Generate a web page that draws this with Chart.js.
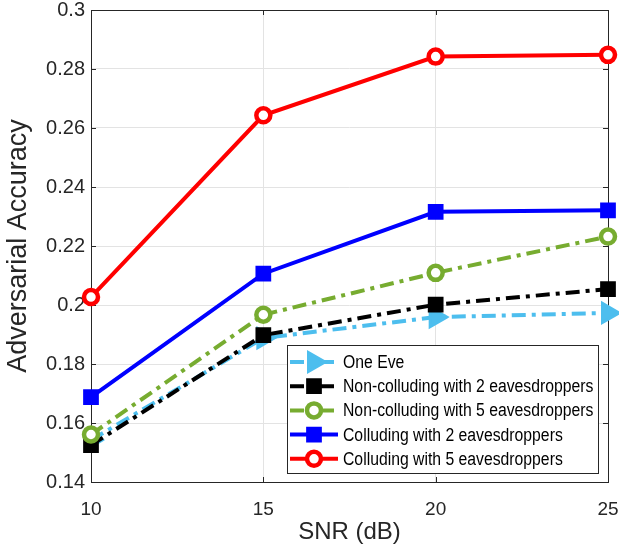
<!DOCTYPE html>
<html>
<head>
<meta charset="utf-8">
<script src="https://cdn.jsdelivr.net/npm/chart.js@4.4.1/dist/chart.umd.min.js"></script>
<style>
  html, body { margin: 0; padding: 0; background: #fff; }
  #wrap { width: 619px; height: 546px; }
</style>
</head>
<body>
<div id="wrap"><canvas id="chart" width="619" height="546"></canvas></div>
<script>
// SNR values on the x axis (dB)
const snr = [ 10, 15, 20, 25 ];

// adversarial accuracy per scenario
const oneEve = [ 0.1542, 0.1888, 0.1959, 0.1973 ];
const nonColluding2 = [ 0.1525, 0.1898, 0.2001, 0.2054 ];
const nonColluding5 = [ 0.1561, 0.1967, 0.2109, 0.2232 ];
const colluding2 = [ 0.1688, 0.2106, 0.2316, 0.2321 ];
const colluding5 = [ 0.2027, 0.2643, 0.2842, 0.2848 ];

const seriesLabels = [
	'One Eve',
	'Non-colluding with 2 eavesdroppers',
	'Non-colluding with 5 eavesdroppers',
	'Colluding with 2 eavesdroppers',
	'Colluding with 5 eavesdroppers',
];

const xTicks = [ 10, 15, 20, 25 ];
const yTicks = [ 0.14, 0.16, 0.18, 0.2, 0.22, 0.24, 0.26, 0.28, 0.3 ];

const FONT = '"Liberation Sans", Arial, Helvetica, sans-serif';
const AXIS_COLOR = '#262626';
const DASH_DOT = [ 14, 6, 4, 6 ];

function toPoints( values ) {
	return values.map( ( v, i ) => ( { x: snr[ i ], y: v } ) );
}

// 系列ごとの見た目
const styles = [
	{ color: '#4DBEEE', dash: DASH_DOT, marker: 'triangle', fill: '#4DBEEE', radius: 11, bw: 3 },
	{ color: '#000000', dash: DASH_DOT, marker: 'rect', fill: '#000000', radius: 9, bw: 3 },
	{ color: '#77AC30', dash: DASH_DOT, marker: 'circle', fill: '#ffffff', radius: 7, bw: 4.5 },
	{ color: '#0000FF', dash: [], marker: 'rect', fill: '#0000FF', radius: 9, bw: 3 },
	{ color: '#FF0000', dash: [], marker: 'circle', fill: '#ffffff', radius: 7, bw: 4.5 },
];

const allValues = [ oneEve, nonColluding2, nonColluding5, colluding2, colluding5 ];

const datasets = allValues.map( ( values, i ) => {
	const s = styles[ i ];
	return {
		label: seriesLabels[ i ],
		data: toPoints( values ),
		borderColor: s.color,
		backgroundColor: s.color,
		borderWidth: 4,
		borderDash: s.dash,
		borderCapStyle: 'butt',
		pointStyle: s.marker,
		pointRotation: s.marker === 'triangle' ? 90 : 0,
		pointRadius: s.radius,
		pointBorderWidth: s.bw,
		pointBorderColor: s.color,
		pointBackgroundColor: s.fill,
		tension: 0,
		clip: false,
		order: allValues.length - i, // 後の系列ほど上に描く
	};
} );

// 枠線と内向きの目盛り
const axesBox = {
	id: 'axesBox',
	beforeDatasetsDraw( chart ) {
		const { ctx, chartArea: a, scales } = chart;
		ctx.save();
		ctx.strokeStyle = AXIS_COLOR;
		ctx.lineWidth = 1;
		ctx.strokeRect( a.left + 0.5, a.top + 0.5, a.right - a.left, a.bottom - a.top );
		ctx.beginPath();
		yTicks.forEach( ( t ) => {
			const y = Math.round( scales.y.getPixelForValue( t ) ) + 0.5;
			ctx.moveTo( a.left, y );
			ctx.lineTo( a.left + 5, y );
			ctx.moveTo( a.right, y );
			ctx.lineTo( a.right - 5, y );
		} );
		xTicks.forEach( ( t ) => {
			const x = Math.round( scales.x.getPixelForValue( t ) ) + 0.5;
			ctx.moveTo( x, a.bottom );
			ctx.lineTo( x, a.bottom - 5 );
			ctx.moveTo( x, a.top );
			ctx.lineTo( x, a.top + 5 );
		} );
		ctx.stroke();
		ctx.restore();
	},
};

function drawMarker( ctx, s, x, y ) {
	ctx.save();
	ctx.fillStyle = s.fill;
	ctx.strokeStyle = s.color;
	ctx.lineWidth = s.bw;
	ctx.setLineDash( [] );
	ctx.beginPath();
	if ( s.marker === 'circle' ) {
		ctx.arc( x, y, s.radius, 0, Math.PI * 2 );
	} else if ( s.marker === 'rect' ) {
		const h = s.radius * Math.SQRT1_2;
		ctx.rect( x - h, y - h, 2 * h, 2 * h );
	} else {
		const r = s.radius;
		for ( let k = 0; k < 3; k++ ) {
			const ang = Math.PI / 2 + ( k * 2 * Math.PI ) / 3;
			const px = x + Math.sin( ang ) * r;
			const py = y - Math.cos( ang ) * r;
			if ( k === 0 ) {
				ctx.moveTo( px, py );
			} else {
				ctx.lineTo( px, py );
			}
		}
		ctx.closePath();
	}
	ctx.fill();
	ctx.stroke();
	ctx.restore();
}

// グラフ内右下の凡例
const insideLegend = {
	id: 'insideLegend',
	afterDraw( chart ) {
		const { ctx, chartArea: a } = chart;
		const left = a.right - 321;
		const top = a.bottom - 137;
		const w = 311;
		const h = 128;
		ctx.save();
		ctx.fillStyle = '#ffffff';
		ctx.fillRect( left, top, w, h );
		ctx.strokeStyle = AXIS_COLOR;
		ctx.lineWidth = 1;
		ctx.strokeRect( left + 0.5, top + 0.5, w, h );
		seriesLabels.forEach( ( label, i ) => {
			const s = styles[ i ];
			const y = top + 17 + i * 24.2;
			ctx.save();
			ctx.strokeStyle = s.color;
			ctx.lineWidth = 4;
			ctx.lineCap = 'butt';
			ctx.setLineDash( s.dash );
			ctx.beginPath();
			ctx.moveTo( left + 3, y );
			ctx.lineTo( left + 51, y );
			ctx.stroke();
			ctx.restore();
			drawMarker( ctx, s, left + 27, y );
			// 元図の細めの書体に合わせて横だけ縮める
			ctx.save();
			ctx.translate( left + 56, y + 1 );
			ctx.scale( 0.875, 1 );
			ctx.font = '18px ' + FONT;
			ctx.textBaseline = 'middle';
			ctx.textAlign = 'left';
			ctx.fillStyle = '#000000';
			ctx.fillText( label, 0, 0 );
			ctx.restore();
		} );
		ctx.restore();
	},
};

new Chart( document.getElementById( 'chart' ), {
	type: 'line',
	data: { datasets },
	options: {
		responsive: false,
		animation: false,
		// マーカー分の自動余白を切って、描画領域を固定する
		layout: { autoPadding: false, padding: { top: 10, right: 11, left: 0, bottom: 0 } },
		plugins: {
			legend: { display: false },
			tooltip: { enabled: false },
		},
		scales: {
			x: {
				type: 'linear',
				min: 10,
				max: 25,
				afterBuildTicks( scale ) {
					scale.ticks = xTicks.map( ( v ) => ( { value: v } ) );
				},
				afterFit( scale ) {
					scale.height = 64;
					scale.paddingLeft = 0;
					scale.paddingRight = 0;
				},
				grid: { color: '#e3e3e3', lineWidth: 1, drawTicks: false },
				border: { display: false },
				ticks: {
					color: AXIS_COLOR,
					font: { family: FONT, size: 19 },
					padding: 16,
					maxRotation: 0,
				},
				title: {
					display: true,
					text: 'SNR (dB)',
					color: AXIS_COLOR,
					font: { family: FONT, size: 24 },
					padding: { top: 0, bottom: -1 },
				},
			},
			y: {
				min: 0.14,
				max: 0.3,
				afterBuildTicks( scale ) {
					scale.ticks = yTicks.map( ( v ) => ( { value: v } ) );
				},
				afterFit( scale ) {
					scale.width = 91;
					scale.paddingTop = 0;
					scale.paddingBottom = 0;
				},
				grid: { color: '#e3e3e3', lineWidth: 1, drawTicks: false },
				border: { display: false },
				ticks: {
					color: AXIS_COLOR,
					font: { family: FONT, size: 20 },
					padding: 6,
					callback: ( v ) => String( parseFloat( Number( v ).toFixed( 2 ) ) ),
				},
				title: {
					display: true,
					text: 'Adversarial Accuracy',
					color: AXIS_COLOR,
					font: { family: FONT, size: 27 },
					padding: { top: 2, bottom: 0 },
				},
			},
		},
	},
	plugins: [ axesBox, insideLegend ],
} );
</script>
</body>
</html>
